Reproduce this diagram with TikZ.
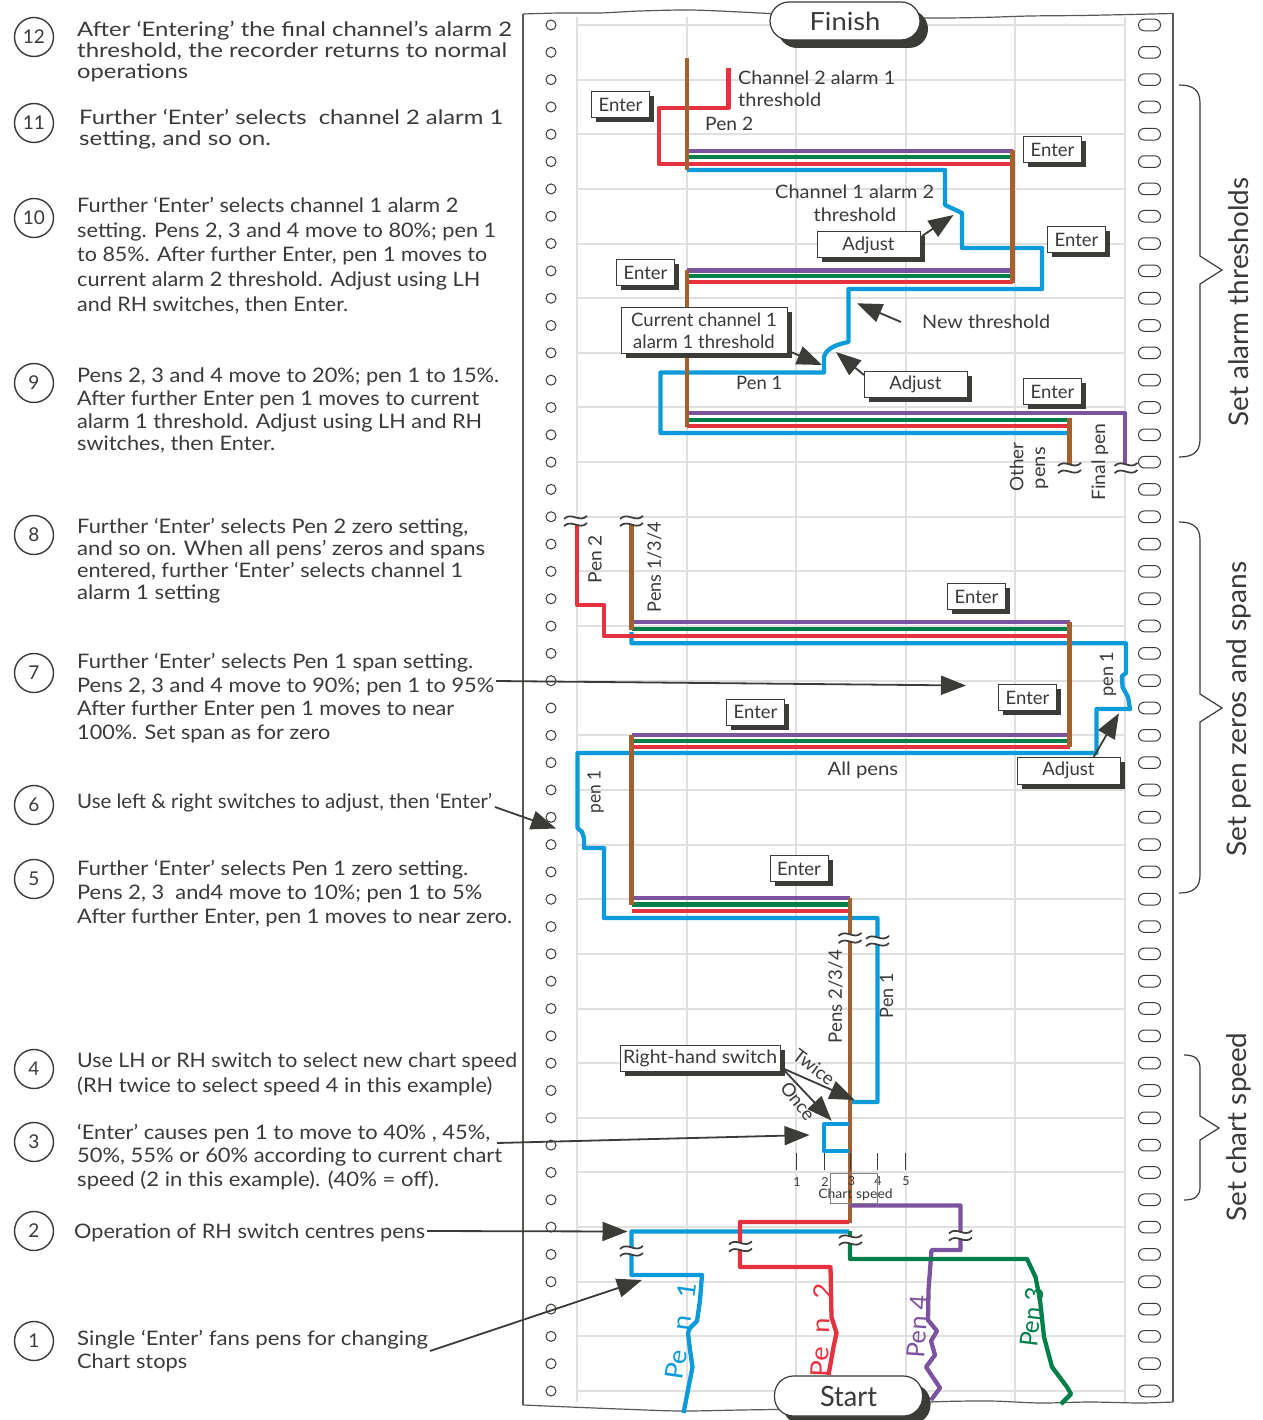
\documentclass[tikz,border=0pt]{standalone}
\usepackage{fontspec}
\setmainfont{Lato}
\usepackage{graphicx}
\usetikzlibrary{arrows.meta,shadows}
\definecolor{pblue}{HTML}{0B9BDA}
\definecolor{pred}{HTML}{E6323F}
\definecolor{pgreen}{HTML}{007F4B}
\definecolor{ppurple}{HTML}{7C53A1}
\definecolor{pbrown}{HTML}{A5602F}
\definecolor{ink}{HTML}{3B3C37}
\definecolor{txt}{HTML}{3A3A3A}
\definecolor{gridc}{HTML}{E0E0E0}
\newcommand\fitw[2]{\resizebox{#1pt}{\height}{#2}}
\newcommand\brkm[2]{%
  \begin{scope}[shift={(#1,#2)}]
    \draw[white, line width=5.5pt] (-10,1.5) .. controls (-4,-6) and (4,6) .. (10,-1.5);
    \foreach \d in {-3.6,3.6}
      \draw[ink, line width=1.7pt] (-11.5,\d+1.5) .. controls (-4,\d-6) and (4,\d+6) .. (11.5,\d-1.5);
  \end{scope}}
\begin{document}
\begin{tikzpicture}[x=1pt,y=-1pt,
  pen/.style={line width=4.3pt, line join=round},
  gridl/.style={draw=gridc, line width=2pt},
  hole/.style={draw=ink, line width=1pt},
  edge/.style={draw=ink!85, line width=1.2pt},
  brk/.style={draw=ink, line width=1.2pt},
  numc/.style={circle, draw=ink, line width=1.4pt, minimum size=39pt, inner sep=0pt, font=\fontsize{19}{19}\selectfont, text=txt},
  lt/.style={anchor=base west, inner sep=0pt, font=\fontsize{20}{24}\selectfont, text=txt},
  lab/.style={inner sep=0pt, font=\fontsize{18.5}{22}\selectfont, text=txt},
  blab/.style={anchor=base west, inner sep=0pt, font=\fontsize{18.5}{22}\selectfont, text=txt},
  rlab/.style={rotate=90, inner sep=0pt, font=\fontsize{18.5}{22}\selectfont, text=txt},
  ebox/.style={draw=ink, fill=white, line width=1pt, inner sep=0pt, font=\fontsize{18.5}{22}\selectfont, text=txt,
     drop shadow={shadow xshift=4.5pt, shadow yshift=-4.5pt, fill=ink, opacity=1}},
  fbox/.style={draw=ink, fill=white, line width=1.2pt, rounded corners=19pt, inner sep=0pt, text=txt,
     drop shadow={shadow xshift=8pt, shadow yshift=-8pt, fill=ink, opacity=1}},
  arr/.style={draw=ink, line width=1.8pt, -{Triangle[length=25pt,width=19pt]}},
  brl/.style={rotate=90, inner sep=0pt, font=\fontsize{27}{27}\selectfont, text=txt}]
\useasboundingbox (0,0) rectangle (1262,1420);
\fill[white] (0,0) rectangle (1262,1420);

% ---------- chart paper ----------
\foreach \x in {577,686.5,796,905.5,1015,1124.5} \draw[gridl] (\x,17) -- (\x,1402);
\foreach \i in {0,...,25} \draw[gridl] (577,25+54.64*\i) -- (1124.5,25+54.64*\i);
\foreach \i in {0,...,50}{
  \pgfmathsetmacro\yy{25+27.32*\i}
  \draw[hole] (551,\yy) circle[radius=5];
  \draw[hole, rounded corners=5.8pt] (1138.5,\yy-5.8) rectangle (1160.5,\yy+5.8);
}
\draw[edge] plot[smooth] coordinates {(523,14) (560,13) (600,13) (640,11) (690,10) (740,12) (780,14) (850,16) (925,18) (980,17.5) (1030,16) (1080,15.5) (1130,14.5) (1173,13.5)};
\draw[edge] plot[smooth] coordinates {(523,1405) (570,1407) (620,1409) (680,1411) (740,1410) (800,1409) (860,1407) (930,1402) (990,1401) (1040,1403) (1090,1402) (1140,1403) (1173,1402)};
\draw[edge] (523,14) -- (523,1405);
\draw[edge] (1173,13.5) -- (1173,1402);

% ---------- alarm section ----------
\draw[pen, pblue] (687,170) -- (945,170) -- (945,205) -- (962,213) -- (962,248) -- (1042,248) -- (1042,289) -- (848.5,289) -- (848.5,342) .. controls (838,344) and (826,348) .. (824,357) -- (824,372.5) -- (660.5,372.5) -- (660.5,433) -- (1069.5,433);
\draw[pen, pred] (728.5,68) -- (728.5,108) -- (659,108) -- (659,164) -- (1012.5,164);
\draw[pen, pgreen] (687,157) -- (1012.5,157);
\draw[pen, ppurple] (687,150.7) -- (1012.5,150.7);
\draw[pen, pred] (687,282.3) -- (1012.5,282.3);
\draw[pen, pgreen] (687,276.3) -- (1012.5,276.3);
\draw[pen, ppurple] (687,270.5) -- (1012.5,270.5);
\draw[pen, pred] (687,426) -- (1069.5,426);
\draw[pen, pgreen] (687,420) -- (1069.5,420);
\draw[pen, ppurple] (687,413.3) -- (1125,413.3) -- (1125,470);
\draw[pen, pbrown] (687,58) -- (687,170);
\draw[pen, pbrown] (1012.5,150) -- (1012.5,283);
\draw[pen, pbrown] (687,270) -- (687,427);
\draw[pen, pbrown] (1069.5,418) -- (1069.5,470);

% ---------- zero / span section ----------
\draw[pen, pblue] (631.5,632) -- (631.5,643.3) -- (1126,643.3) -- (1126,673) -- (1122,676) -- (1122.5,687) -- (1128,697) -- (1130,709) -- (1096.5,709) -- (1096.5,753) -- (577.5,753) -- (577.5,828) -- (582,832) -- (584,838) -- (584,848) -- (604,848) -- (604,918) -- (877.5,918) -- (877.5,1102) -- (849,1102);
\draw[pen, pred] (577,522) -- (577,605) -- (604,605) -- (604,636) -- (1069.5,636);
\draw[pen, pgreen] (631.5,628.7) -- (1069.5,628.7);
\draw[pen, ppurple] (631.5,621.7) -- (1069.5,621.7);
\draw[pen, pred] (631.5,747) -- (1069.5,747);
\draw[pen, pgreen] (631.5,741) -- (1069.5,741);
\draw[pen, ppurple] (631.5,735) -- (1069.5,735);
\draw[pen, pred] (631.5,911) -- (850,911);
\draw[pen, pgreen] (631.5,904.5) -- (850,904.5);
\draw[pen, ppurple] (631.5,898) -- (850,898);
\draw[pen, pbrown] (631.5,522) -- (631.5,630);
\draw[pen, pbrown] (1069.5,622) -- (1069.5,747);
\draw[pen, pbrown] (631.5,735) -- (631.5,905);
\draw[pen, pbrown] (850,898) -- (850,1223);

% ---------- chart speed / start ----------
\draw[pen, pblue] (849,1124) -- (824,1124) -- (824,1151) -- (849,1151);
\draw[pen, pblue] (849,1231.5) -- (631.5,1231.5) -- (631.5,1275) -- (702,1275) -- (700,1300) -- (697,1321) -- (690,1328) -- (688,1333) -- (690,1350) -- (692.5,1367) -- (688,1390) -- (683.5,1413);
\draw[pen, pred] (849,1222) -- (740,1222) -- (740,1267) -- (830.5,1267) -- (831.5,1317) -- (836.5,1333) -- (833.5,1347) -- (828.5,1375);
\draw[pen, ppurple] (850,1205.5) -- (960.5,1205.5) -- (960.5,1250) -- (931.5,1250) -- (928.5,1290) -- (928,1320) -- (937,1331) -- (931,1341) -- (935,1355) -- (926,1367) -- (940,1388) -- (931,1400);
\draw[pen, pgreen] (850,1231) -- (850,1259) -- (1027,1259) -- (1035.5,1277) -- (1040,1300) -- (1044,1337) -- (1052,1367) -- (1067,1387) -- (1071,1394) -- (1061,1404);

% breaks
\brkm{575.5}{521}
\brkm{631.5}{521}
\brkm{1069.5}{468}
\brkm{1126}{468}
\brkm{850}{938}
\brkm{877.5}{941}
\brkm{631.5}{1251}
\brkm{740.5}{1246.5}
\brkm{850.5}{1240}
\brkm{960.5}{1235.5}

% chart speed scale
\foreach \x/\n in {796/1,824/2,850.5/3,877/4,905/5}{
  \draw[ink, line width=0.9pt] (\x,1153) -- (\x,1170);
  \node[inner sep=0pt, font=\fontsize{12.5}{13}\selectfont, text=txt] (sp\n) at (\x+1,1181.5) {\n};
}
\node[inner sep=0pt, font=\fontsize{13}{13}\selectfont, text=txt] (cspd) at (855.5,1195) {\fitw{74.5}{Chart speed}};
\draw[gray, line width=0.7pt] (830,1173) rectangle (877,1203);

% ---------- chart labels ----------
\node[blab] (lb1a) at (738,85) {\fitw{157}{Channel 2 alarm 1}};
\node[blab] (lb1b) at (738,107) {\fitw{83}{threshold}};
\node[blab] (lb2) at (705,131) {\fitw{48}{Pen 2}};
\node[blab] (lb3a) at (775,199) {\fitw{159}{Channel 1 alarm 2}};
\node[blab] (lb3b) at (813.5,222) {\fitw{82.5}{threshold}};
\node[blab] (lb4) at (922,329) {\fitw{128}{New threshold}};
\node[blab] (lb5) at (736,389) {\fitw{46}{Pen 1}};
\node[rlab] (lb6) at (1016.5,467) {\fitw{49}{Other}};
\node[rlab] (lb7) at (1042,468) {\fitw{42}{pens}};
\node[rlab] (lb8) at (1100,462) {\fitw{77.5}{Final pen}};
\node[rlab] (lb9) at (1108,674) {\fitw{45}{pen 1}};
\node[blab] (lb10) at (827.4,775) {\fitw{70.6}{All pens}};
\node[rlab] (lb11) at (595.5,791.5) {\fitw{43}{pen 1}};
\node[rlab] (lb12) at (595,559) {\fitw{48}{Pen 2}};
\node[rlab] (lb13) at (654.5,567) {\fitw{90}{Pens 1/3/4}};
\node[rlab] (lb14) at (835.5,996.5) {\fitw{93}{Pens 2/3/4}};
\node[rlab] (lb15) at (886.5,995.5) {\fitw{45}{Pen 1}};
\node[lab, rotate=-37] (ltw) at (814,1067) {Twice};
\node[lab, rotate=-52] (lon) at (798,1101) {Once};
\node[rotate=82, inner sep=0pt, font=\fontsize{25}{25}\selectfont, text=pblue] (pl1) at (681,1331) {\fitw{98}{Pe\hspace{18pt}n\hspace{16pt}1}};
\node[rotate=88, inner sep=0pt, font=\fontsize{25}{25}\selectfont, text=pred] (pl2) at (821,1330) {\fitw{94}{Pe\hspace{13pt}n\hspace{17pt}2}};
\node[rotate=86, inner sep=0pt, font=\fontsize{25}{25}\selectfont, text=ppurple] (pl4) at (917.5,1326.5) {\fitw{63}{Pen 4}};
\node[rotate=83, inner sep=0pt, font=\fontsize{25}{25}\selectfont, text=pgreen] (pl3) at (1032,1317) {\fitw{60}{Pen 3}};

% ---------- boxes ----------
\node[fbox, minimum width=150pt, minimum height=38pt, font=\fontsize{25}{25}\selectfont] (finish) at (845,21) {\fitw{71}{Finish}};
\node[fbox, minimum width=148pt, minimum height=40pt, font=\fontsize{28}{28}\selectfont] (start) at (848.5,1396) {\fitw{57}{Start}};
\node[ebox, minimum width=58pt, minimum height=26pt] (e1) at (620.5,105) {Enter};
\node[ebox, minimum width=58pt, minimum height=26pt] (e2) at (1052.5,149.5) {Enter};
\node[ebox, minimum width=58pt, minimum height=26pt] (e3) at (1076.5,240) {Enter};
\node[ebox, minimum width=103pt, minimum height=26pt] (a4) at (868.5,245) {Adjust};
\node[ebox, minimum width=58pt, minimum height=26pt] (e5) at (645.5,272.5) {Enter};
\node[ebox, minimum width=166pt, minimum height=46pt, align=center] (cur) at (704,330.5) {Current channel 1\\alarm 1 threshold};
\node[ebox, minimum width=103pt, minimum height=26pt] (a7) at (915.5,384) {Adjust};
\node[ebox, minimum width=58pt, minimum height=26pt] (e8) at (1052.5,391.5) {Enter};
\node[ebox, minimum width=58pt, minimum height=26pt] (e9) at (976.5,596.5) {Enter};
\node[ebox, minimum width=58pt, minimum height=26pt] (e10) at (1027.5,697.5) {Enter};
\node[ebox, minimum width=58pt, minimum height=26pt] (e11) at (755.5,712) {Enter};
\node[ebox, minimum width=103pt, minimum height=27pt] (a12) at (1068.5,770.5) {Adjust};
\node[ebox, minimum width=58pt, minimum height=26pt] (e13) at (799,868.5) {Enter};
\node[ebox, minimum width=160pt, minimum height=26pt] (rh) at (700,1058) {\fitw{154}{Right-hand switch}};

% ---------- brackets ----------
\draw[brk] (1179,85) .. controls (1193,85) and (1200,90) .. (1200,103) -- (1200,256) -- (1222,270) -- (1200,284) -- (1200,439) .. controls (1200,452) and (1193,457) .. (1179,457);
\draw[brk] (1179,522) .. controls (1193,522) and (1200,527) .. (1200,540) -- (1200,694) -- (1222,708) -- (1200,722) -- (1200,875) .. controls (1200,888) and (1193,893) .. (1179,893);
\draw[brk] (1184,1055) .. controls (1195,1055) and (1200,1059) .. (1200,1068) -- (1200,1116) -- (1219,1128) -- (1200,1140) -- (1200,1187) .. controls (1200,1196) and (1195,1200) .. (1184,1200);
\node[brl] (br1) at (1239,302) {\fitw{249}{Set alarm thresholds}};
\node[brl] (br2) at (1239,709) {\fitw{295}{Set pen zeros and spans}};
\node[brl] (br3) at (1239,1127) {\fitw{189}{Set chart speed}};

% ---------- left steps ----------
\node[numc] (c12) at (34,37) {12};
\node[numc] (c11) at (34,123) {11};
\node[numc] (c10) at (34,218) {10};
\node[numc] (c9) at (34,383) {9};
\node[numc] (c8) at (34,535) {8};
\node[numc] (c7) at (34,673) {7};
\node[numc] (c6) at (34,805) {6};
\node[numc] (c5) at (34,879) {5};
\node[numc] (c4) at (34,1069) {4};
\node[numc] (c3) at (34,1142) {3};
\node[numc] (c2) at (34,1231) {2};
\node[numc] (c1) at (34,1341) {1};

\node[lt] (l12a) at (77,37) {\fitw{435}{After ‘Entering’ the final channel’s alarm 2}};
\node[lt] (l12b) at (77,58) {\fitw{430}{threshold, the recorder returns to normal}};
\node[lt] (l12c) at (77,79) {\fitw{111}{operations}};
\node[lt] (l11a) at (79,125) {\fitw{424}{Further ‘Enter’ selects\ \ channel 2 alarm 1}};
\node[lt] (l11b) at (79,146) {\fitw{192}{setting, and so on.}};
\node[lt] (l10a) at (77,213) {\fitw{381}{Further ‘Enter’ selects channel 1 alarm 2}};
\node[lt] (l10b) at (77,238) {\fitw{419}{setting. Pens 2, 3 and 4 move to 80\%; pen 1}};
\node[lt] (l10c) at (77,262) {\fitw{410}{to 85\%. After further Enter, pen 1 moves to}};
\node[lt] (l10d) at (77,287) {\fitw{403}{current alarm 2 threshold. Adjust using LH}};
\node[lt] (l10e) at (77,312) {\fitw{271}{and RH switches, then Enter.}};
\node[lt] (l9a) at (77,382) {\fitw{422}{Pens 2, 3 and 4 move to 20\%; pen 1 to 15\%.}};
\node[lt] (l9b) at (77,405) {\fitw{402}{After further Enter pen 1 moves to current}};
\node[lt] (l9c) at (77,428) {\fitw{405}{alarm 1 threshold. Adjust using LH and RH}};
\node[lt] (l9d) at (77,450) {\fitw{198}{switches, then Enter.}};
\node[lt] (l8a) at (77,533) {\fitw{391}{Further ‘Enter’ selects Pen 2 zero setting,}};
\node[lt] (l8b) at (77,555) {\fitw{408}{and so on. When all pens’ zeros and spans}};
\node[lt] (l8c) at (77,577) {\fitw{386}{entered, further ‘Enter’ selects channel 1}};
\node[lt] (l8d) at (77,599) {\fitw{143}{alarm 1 setting}};
\node[lt] (l7a) at (77,668) {\fitw{396}{Further ‘Enter’ selects Pen 1 span setting.}};
\node[lt] (l7b) at (77,692) {\fitw{417}{Pens 2, 3 and 4 move to 90\%; pen 1 to 95\%}};
\node[lt] (l7c) at (77,715) {\fitw{377}{After further Enter pen 1 moves to near}};
\node[lt] (l7d) at (77,739) {\fitw{253}{100\%. Set span as for zero}};
\node[lt] (l6a) at (77,808) {\fitw{415}{Use left \& right switches to adjust, then ‘Enter’}};
\node[lt] (l5a) at (77,875) {\fitw{391}{Further ‘Enter’ selects Pen 1 zero setting.}};
\node[lt] (l5b) at (77,899) {\fitw{405}{Pens 2, 3\ \ and4 move to 10\%; pen 1 to 5\%}};
\node[lt] (l5c) at (77,923) {\fitw{435}{After further Enter, pen 1 moves to near zero.}};
\node[lt] (l4a) at (77,1067) {\fitw{440}{Use LH or RH switch to select new chart speed}};
\node[lt] (l4b) at (77,1092) {\fitw{415}{(RH twice to select speed 4 in this example)}};
\node[lt] (l3a) at (77,1139) {\fitw{413}{‘Enter’ causes pen 1 to move to 40\% , 45\%,}};
\node[lt] (l3b) at (77,1162) {\fitw{425}{50\%, 55\% or 60\% according to current chart}};
\node[lt] (l3c) at (77,1186) {\fitw{362}{speed (2 in this example). (40\% = off).}};
\node[lt] (l2a) at (74,1238) {\fitw{351}{Operation of RH switch centres pens}};
\node[lt] (l1a) at (77,1345) {\fitw{351}{Single ‘Enter’ fans pens for changing}};
\node[lt] (l1b) at (77,1368) {\fitw{110}{Chart stops}};

% ---------- arrows ----------
\coordinate (a1s) at (430,1351); \coordinate (a1t) at (642,1280);
\coordinate (a2s) at (427,1231); \coordinate (a2t) at (627.5,1231.5);
\coordinate (a3s) at (497,1143); \coordinate (a3t) at (809.5,1135);
\coordinate (a6s) at (495,807); \coordinate (a6t) at (556,828.5);
\coordinate (a7s) at (496,681); \coordinate (a7t) at (966,685.5);
\coordinate (ad4s) at (922,236); \coordinate (ad4t) at (953.5,215);
\coordinate (nts) at (901,322); \coordinate (ntt) at (857,303.3);
\coordinate (curs) at (788.6,351); \coordinate (curt) at (822,365);
\coordinate (ad7s) at (864,375); \coordinate (ad7t) at (836,352);
\coordinate (ad12s) at (1093.7,757); \coordinate (ad12t) at (1118.9,713.3);
\coordinate (rhs) at (782,1068); \coordinate (twt) at (854.7,1100); \coordinate (ont) at (831.6,1120.7);
\draw[arr] (a1s) -- (a1t);
\draw[arr] (a2s) -- (a2t);
\draw[arr] (a3s) -- (a3t);
\draw[arr] (a6s) -- (a6t);
\draw[arr] (a7s) -- (a7t);
\draw[arr] (ad4s) -- (ad4t);
\draw[arr] (nts) -- (ntt);
\draw[arr] (curs) -- (curt);
\draw[arr] (ad7s) -- (ad7t);
\draw[arr] (ad12s) -- (ad12t);
\draw[arr] (rhs) -- (twt);
\draw[arr] (rhs) -- (ont);
\end{tikzpicture}
\end{document}
